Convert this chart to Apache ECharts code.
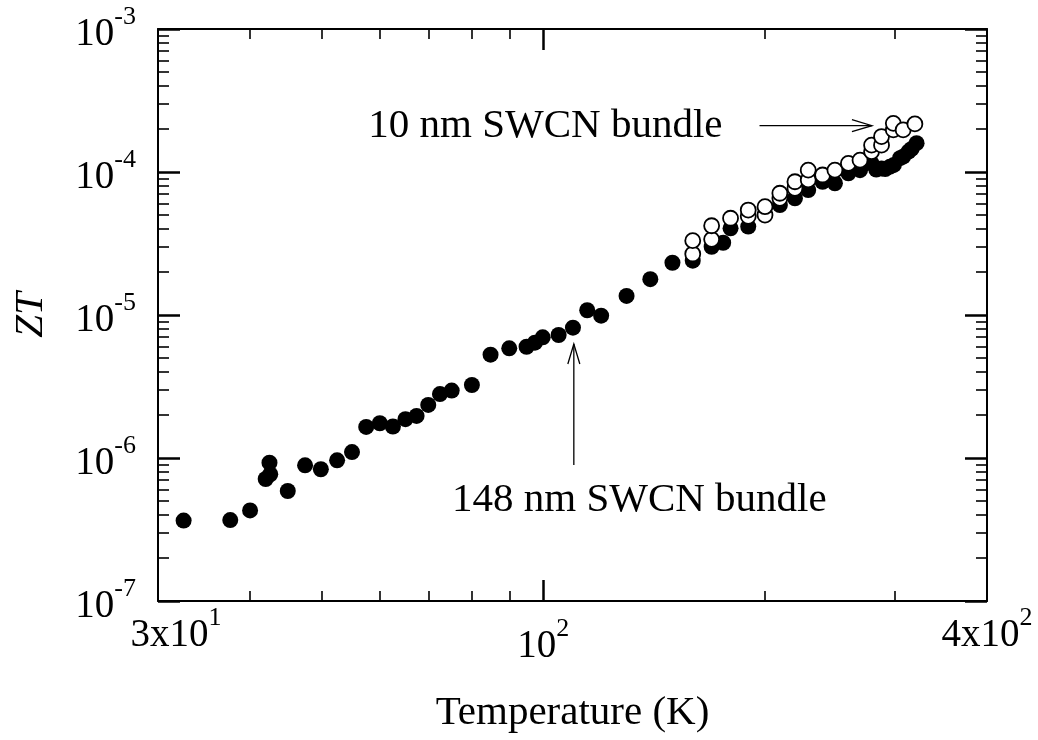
<!DOCTYPE html>
<html>
<head>
<meta charset="utf-8">
<title>ZT vs Temperature</title>
<style>
  html, body { margin: 0; height: 100%; background: #fff; }
  #chart { width: 1038px; height: 740px; }
</style>
</head>
<body>
<div id="chart"></div>
<script src="https://cdn.jsdelivr.net/npm/echarts@6/dist/echarts.min.js"></script>
<script>
// 148 nm SWCN bundle: [temperature K, ZT]
const bundle148 = [
  [32.5, 3.65e-7], [37.6, 3.68e-7], [40.0, 4.3e-7], [42.0, 7.13e-7], [42.6, 7.7e-7],
  [42.5, 9.27e-7], [45.0, 5.88e-7], [47.5, 8.89e-7], [49.9, 8.34e-7], [52.5, 9.63e-7],
  [55.0, 1.10e-6], [57.5, 1.65e-6], [60.0, 1.75e-6], [62.5, 1.66e-6], [65.0, 1.87e-6],
  [67.3, 1.97e-6], [69.8, 2.35e-6], [72.4, 2.80e-6], [75.1, 2.96e-6], [80.0, 3.24e-6],
  [84.8, 5.28e-6], [89.9, 5.85e-6], [94.9, 6.0e-6], [97.4, 6.4e-6], [99.8, 6.98e-6],
  [104.9, 7.25e-6], [109.7, 8.15e-6], [114.7, 1.08e-5], [119.8, 9.89e-6], [129.7, 1.36e-5],
  [139.7, 1.78e-5], [149.7, 2.32e-5], [159.5, 2.40e-5], [169.2, 3.0e-5], [175.4, 3.2e-5],
  [179.5, 4.04e-5], [189.7, 4.15e-5], [209.4, 5.88e-5], [219.5, 6.55e-5], [228.8, 7.48e-5],
  [239.3, 8.55e-5], [248.7, 8.34e-5], [259.4, 9.8e-5], [269, 1.03e-4], [278.9, 1.15e-4],
  [283, 1.04e-4], [287.7, 1.06e-4], [291, 1.05e-4], [295.4, 1.09e-4], [299, 1.12e-4],
  [304.8, 1.25e-4], [307.8, 1.28e-4], [313, 1.39e-4], [316, 1.45e-4], [321, 1.59e-4]
];

// 10 nm SWCN bundle: [temperature K, ZT]
const bundle10 = [
  [159.5, 2.67e-5], [159.5, 3.31e-5], [169.2, 3.38e-5], [169.2, 4.21e-5], [179.5, 4.75e-5],
  [189.7, 4.9e-5], [189.7, 5.42e-5], [199.9, 5.0e-5], [199.9, 5.72e-5], [209.4, 6.55e-5],
  [209.4, 7.1e-5], [219.5, 7.69e-5], [219.5, 8.55e-5], [228.8, 8.8e-5], [228.8, 1.03e-4],
  [239.3, 9.53e-5], [248.7, 1.03e-4], [259.4, 1.15e-4], [269, 1.21e-4], [278.9, 1.39e-4],
  [278.9, 1.54e-4], [287.7, 1.54e-4], [287.7, 1.77e-4], [298.5, 1.97e-4], [298.5, 2.19e-4],
  [307.8, 1.97e-4], [319.3, 2.17e-4]
];

const tempEndLabels = [30, 400];
const tempMidLabels = [100];
const tempMajorTicks = [100];
const tempMinorTicks = [40, 50, 60, 70, 80, 90, 200, 300];
const ztMajorTicks = [1e-7, 1e-6, 1e-5, 1e-4, 1e-3];
const ztMinorTicks = [];
for (let e = -7; e < -3; e++) {
  for (let m = 2; m <= 9; m++) ztMinorTicks.push(m * Math.pow(10, e));
}

const FONT = 'Liberation Serif';

function tempLabel(v) {
  if (v === 30) return '{pl|}{b|3x10}{s|1}';
  if (v === 100) return '{b|10}{s|2}';
  return '{b|4x10}{s|2}';
}
function ztLabel(v) {
  return '{b|10}{s|' + Math.round(Math.log10(v)) + '}';
}

const rich = {
  b: { fontFamily: FONT, fontSize: 39, color: '#000', lineHeight: 50, verticalAlign: 'bottom' },
  s: { fontFamily: FONT, fontSize: 26, color: '#000', lineHeight: 26, verticalAlign: 'top' },
  pl: { width: 36 }
};

function xAxisDef(pos, ticks, len, withLine, labels, margin) {
  return {
    type: 'log', logBase: 10, min: 30, max: 400, position: pos,
    axisLine: { show: withLine, lineStyle: { color: '#000', width: 2 } },
    axisTick: { show: true, inside: true, length: len, customValues: ticks,
      lineStyle: { color: '#000', width: len > 15 ? 2.5 : 1.6 } },
    axisLabel: labels ? {
      show: true, customValues: labels, margin: margin,
      formatter: tempLabel, rich: rich
    } : { show: false },
    splitLine: { show: false }, minorTick: { show: false }
  };
}
function yAxisDef(pos, ticks, len, withLine, withLabel) {
  return {
    type: 'log', logBase: 10, min: 1e-7, max: 1e-3, position: pos,
    axisLine: { show: withLine, lineStyle: { color: '#000', width: 2 } },
    axisTick: { show: true, inside: true, length: len, customValues: ticks,
      lineStyle: { color: '#000', width: len > 15 ? 2.5 : 1.6 } },
    axisLabel: withLabel ? {
      show: true, customValues: ztMajorTicks, margin: 22,
      formatter: ztLabel, rich: rich
    } : { show: false },
    splitLine: { show: false }, minorTick: { show: false }
  };
}

const xName = xAxisDef('bottom', tempMinorTicks, 10, true, tempEndLabels, 4);
xName.name = 'Temperature (K)';
xName.nameLocation = 'middle';
xName.nameGap = 92;
xName.nameTextStyle = { fontFamily: FONT, fontSize: 41, color: '#000' };

const yName = yAxisDef('left', ztMinorTicks, 11, true, true);
yName.name = 'ZT';
yName.nameLocation = 'middle';
yName.nameGap = 106;
yName.nameTextStyle = { fontFamily: FONT, fontSize: 41, fontStyle: 'italic', color: '#000' };

const chart = echarts.init(document.getElementById('chart'), null, { renderer: 'canvas' });

chart.setOption({
  animation: false,
  backgroundColor: '#fff',
  grid: { left: 158, right: 51, top: 29, bottom: 139, containLabel: false },
  xAxis: [
    xName,
    xAxisDef('bottom', tempMajorTicks, 21, false, tempMidLabels, 15),
    xAxisDef('top', tempMinorTicks, 10, true, null, 0),
    xAxisDef('top', tempMajorTicks, 21, false, null, 0)
  ],
  yAxis: [
    yName,
    yAxisDef('left', ztMajorTicks, 22, false, false),
    yAxisDef('right', ztMinorTicks, 11, true, false),
    yAxisDef('right', ztMajorTicks, 22, false, false)
  ],
  series: [
    {
      name: '148 nm SWCN bundle', type: 'scatter', xAxisIndex: 0, yAxisIndex: 0,
      symbol: 'circle', symbolSize: 16,
      itemStyle: { color: '#000', opacity: 1 },
      data: bundle148, z: 2
    },
    {
      name: '10 nm SWCN bundle', type: 'scatter', xAxisIndex: 0, yAxisIndex: 0,
      symbol: 'circle', symbolSize: 15,
      itemStyle: { color: '#fff', borderColor: '#000', borderWidth: 1.8, opacity: 1 },
      data: bundle10, z: 3
    }
  ]
});

// annotation arrows, anchored in data coordinates
const arrow10 = { from: [196.5, 2.11e-4], to: [279.2, 2.11e-4] };
const arrow148 = { from: [110.0, 8.93e-7], to: [110.0, 6.27e-6] };

function px(p) { return chart.convertToPixel({ xAxisIndex: 0, yAxisIndex: 0 }, p); }

function arrowShapes(a, dir) {
  const f = px(a.from), t = px(a.to);
  const head = 20, half = 6;
  let h1, h2;
  if (dir === 'right') { h1 = [t[0] - head, t[1] - half]; h2 = [t[0] - head, t[1] + half]; }
  else { h1 = [t[0] - half, t[1] + head]; h2 = [t[0] + half, t[1] + head]; }
  const st = { stroke: '#000', lineWidth: 1.3, fill: null };
  return [
    { type: 'line', shape: { x1: f[0], y1: f[1], x2: t[0], y2: t[1] }, style: st, silent: true },
    { type: 'polyline', shape: { points: [h1, t, h2] }, style: st, silent: true }
  ];
}

const a10 = px(arrow10.from);
const a148 = px(arrow148.from);

chart.setOption({
  graphic: [
    ...arrowShapes(arrow10, 'right'),
    ...arrowShapes(arrow148, 'up'),
    {
      type: 'text', x: a10[0] - 37, y: a10[1] + 1,
      style: { text: '10 nm SWCN bundle', font: '41px "Liberation Serif"', fill: '#000',
        align: 'right', verticalAlign: 'middle' }
    },
    {
      type: 'text', x: 452, y: a148[1] + 35,
      style: { text: '148 nm SWCN bundle', font: '41px "Liberation Serif"', fill: '#000',
        align: 'left', verticalAlign: 'middle' }
    }
  ]
});
</script>
</body>
</html>
